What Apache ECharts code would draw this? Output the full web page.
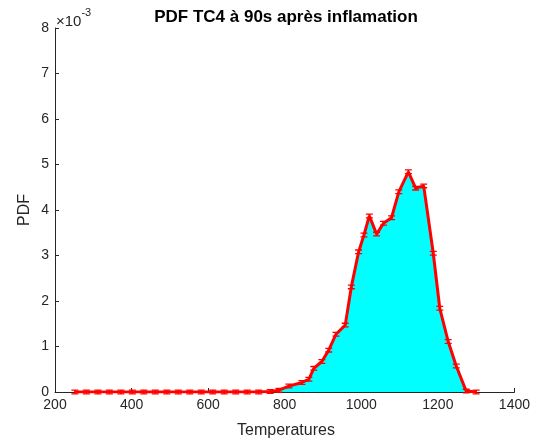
<!DOCTYPE html>
<html>
<head>
<meta charset="utf-8">
<script src="https://cdn.jsdelivr.net/npm/echarts@6/dist/echarts.min.js"></script>
<style>html,body{margin:0;padding:0;background:#fff}#c{width:533px;height:442px}</style>
</head>
<body>
<div id="c"></div>
<script>
// Temperatures (x) and PDF values (in units of 1e-3)
var temps = [252, 282, 312, 342, 372, 402, 432, 462, 492, 522, 552, 582, 612, 642, 672, 702, 732, 762,
             785, 811, 845, 863, 876, 897, 915, 934, 958, 974, 993, 1007, 1021, 1040, 1058, 1079,
             1098, 1123, 1142, 1163, 1188, 1205, 1227, 1248, 1274, 1300];
var pdf = [0, 0, 0, 0, 0, 0, 0, 0, 0, 0, 0, 0, 0, 0, 0, 0, 0, 0.01,
           0.04, 0.13, 0.21, 0.28, 0.52, 0.67, 0.92, 1.27, 1.47, 2.31, 3.08, 3.45, 3.87, 3.47, 3.71, 3.83,
           4.40, 4.84, 4.48, 4.53, 3.05, 1.84, 1.11, 0.57, 0.02, 0];
var xTicks = [200, 400, 600, 800, 1000, 1200, 1400];
var yTicks = [0, 1, 2, 3, 4, 5, 6, 7, 8];
var titleText = 'PDF TC4 à 90s après inflamation';
var xLabel = 'Temperatures';
var yLabel = 'PDF';

var pts = temps.map(function (t, i) { return [t, pdf[i]]; });
var axisCol = '#262626';
var font = '"Liberation Sans", Arial, sans-serif';

var chart = echarts.init(document.getElementById('c'), null, {renderer: 'canvas'});
chart.setOption({
  animation: false,
  grid: {left: 55, right: 16, top: 28, bottom: 50, containLabel: false},
  xAxis: {
    type: 'value', min: xTicks[0], max: xTicks[xTicks.length - 1], interval: 200,
    axisLine: {show: true, onZero: false, lineStyle: {color: axisCol, width: 1}},
    axisTick: {show: true, inside: true, length: 4, lineStyle: {color: axisCol}},
    axisLabel: {color: axisCol, fontSize: 14, fontFamily: font, margin: 6, formatter: function (v) { return String(v); }},
    splitLine: {show: false}
  },
  yAxis: {
    type: 'value', min: yTicks[0], max: yTicks[yTicks.length - 1], interval: 1,
    axisLine: {show: true, onZero: false, lineStyle: {color: axisCol, width: 1}},
    axisTick: {show: true, inside: true, length: 4, lineStyle: {color: axisCol}},
    axisLabel: {color: axisCol, fontSize: 14, fontFamily: font, margin: 6, formatter: function (v) { return String(v); }},
    splitLine: {show: false}
  },
  graphic: [
    {type: 'text', x: 286, y: 9, style: {text: titleText, font: 'bold 17px ' + font, fill: '#000', textAlign: 'center', textVerticalAlign: 'top'}},
    {type: 'text', x: 286, y: 423, style: {text: xLabel, font: '16px ' + font, fill: axisCol, textAlign: 'center', textVerticalAlign: 'top'}},
    {type: 'text', x: 25, y: 210, rotation: Math.PI / 2, style: {text: yLabel, font: '16px ' + font, fill: axisCol, textAlign: 'center', textVerticalAlign: 'middle'}},
    {type: 'text', x: 56, y: 7, style: {
      text: '{a|×10}{b|-3}',
      rich: {
        a: {fontSize: 15, fontFamily: font, fill: axisCol, color: axisCol, padding: [7, 0, 0, 0]},
        b: {fontSize: 11, fontFamily: font, fill: axisCol, color: axisCol, verticalAlign: 'top'}
      }
    }}
  ],
  series: [
    {
      type: 'line', data: pts, symbol: 'none', z: 2,
      lineStyle: {color: '#000', width: 1},
      areaStyle: {color: '#00FFFF', opacity: 1}
    },
    {
      type: 'line', data: pts, z: 3,
      symbol: 'path://M0,0H8V1.8H4.9V5.2H8V7H0V5.2H3.1V1.8H0Z', symbolSize: [7, 5],
      itemStyle: {color: '#FF0000'},
      lineStyle: {color: '#FF0000', width: 3}
    }
  ]
});
</script>
</body>
</html>
